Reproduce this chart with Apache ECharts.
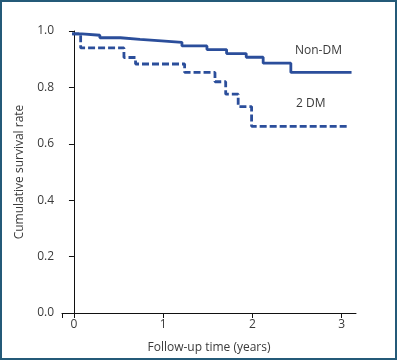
<!DOCTYPE html>
<html>
<head>
<meta charset="utf-8">
<script src="https://cdn.jsdelivr.net/npm/echarts@6/dist/echarts.min.js"></script>
<style>
  html, body { margin: 0; padding: 0; background: #fff; }
  #chart { width: 397px; height: 360px; }
</style>
</head>
<body>
<div id="chart"></div>
<script>
// Kaplan-Meier steps (years, survival)
const nonDmTime = [-0.02, 0.09, 0.29, 0.52, 0.74, 0.98, 1.21, 1.49, 1.71, 1.93, 2.12, 2.43, 3.11]
const nonDmSurv = [0.99, 0.985, 0.976, 0.97, 0.965, 0.96, 0.947, 0.934, 0.92, 0.907, 0.886, 0.853, 0.853]
const dmTime = [-0.02, 0.075, 0.56, 0.69, 1.24, 1.58, 1.70, 1.84, 1.99, 3.07]
const dmSurv = [0.99, 0.94, 0.906, 0.883, 0.853, 0.82, 0.776, 0.732, 0.662, 0.662]
const xTicks = [0, 1, 2, 3]

const FONT = 'Open Sans'
const LINE = '#2b4e9b'
const TEXT = '#3a3a3a'

const pairs = (xs, ys) => xs.map((x, i) => [x, ys[i]])

const chart = echarts.init(document.getElementById('chart'))

const option = {
  animation: false,
  grid: { left: 62, right: 41, top: 31, bottom: 47, containLabel: false },
  xAxis: {
    type: 'value',
    min: -0.134,
    max: 3.16,
    name: 'Follow-up time (years)',
    nameLocation: 'middle',
    nameGap: 29,
    nameTextStyle: { fontFamily: FONT, fontSize: 12, color: TEXT },
    axisLine: { lineStyle: { color: '#111', width: 1 } },
    axisTick: { customValues: [-0.134].concat(xTicks), length: 5, lineStyle: { color: '#111' } },
    axisLabel: { customValues: xTicks, fontFamily: FONT, fontSize: 12, color: TEXT, margin: 6 },
    splitLine: { show: false }
  },
  yAxis: {
    type: 'value',
    min: 0,
    max: 1,
    interval: 0.2,
    name: 'Cumulative survival rate',
    nameLocation: 'middle',
    nameGap: 36,
    nameRotate: 90,
    nameTextStyle: { fontFamily: FONT, fontSize: 12, color: TEXT, padding: [0, 0, 0, 0] },
    axisLine: { show: true, lineStyle: { color: '#111', width: 1 } },
    axisTick: { show: true, length: 5, lineStyle: { color: '#111' } },
    axisLabel: {
      fontFamily: FONT, fontSize: 12, color: TEXT, margin: 8,
      formatter: v => v.toFixed(1)
    },
    splitLine: { show: false }
  },
  series: [
    {
      name: 'Non-DM',
      type: 'line',
      step: 'end',
      symbol: 'none',
      data: pairs(nonDmTime, nonDmSurv),
      lineStyle: { color: LINE, width: 2.8 },
      z: 3
    },
    {
      name: '2 DM',
      type: 'line',
      step: 'end',
      symbol: 'none',
      data: pairs(dmTime, dmSurv),
      lineStyle: { color: LINE, width: 2.8, type: [7, 3] },
      z: 2
    }
  ],
  graphic: [
    {
      type: 'rect',
      shape: { x: 1, y: 1, width: 395, height: 358 },
      style: { fill: 'none', stroke: '#245a78', lineWidth: 2 },
      silent: true
    },
    {
      type: 'text', left: 295, top: 45,
      style: { text: 'Non-DM', fontFamily: FONT, fontSize: 12, fill: TEXT }
    },
    {
      type: 'text', left: 296, top: 98,
      style: { text: '2 DM', fontFamily: FONT, fontSize: 12, fill: TEXT }
    }
  ]
}

chart.setOption(option)
</script>
</body>
</html>
